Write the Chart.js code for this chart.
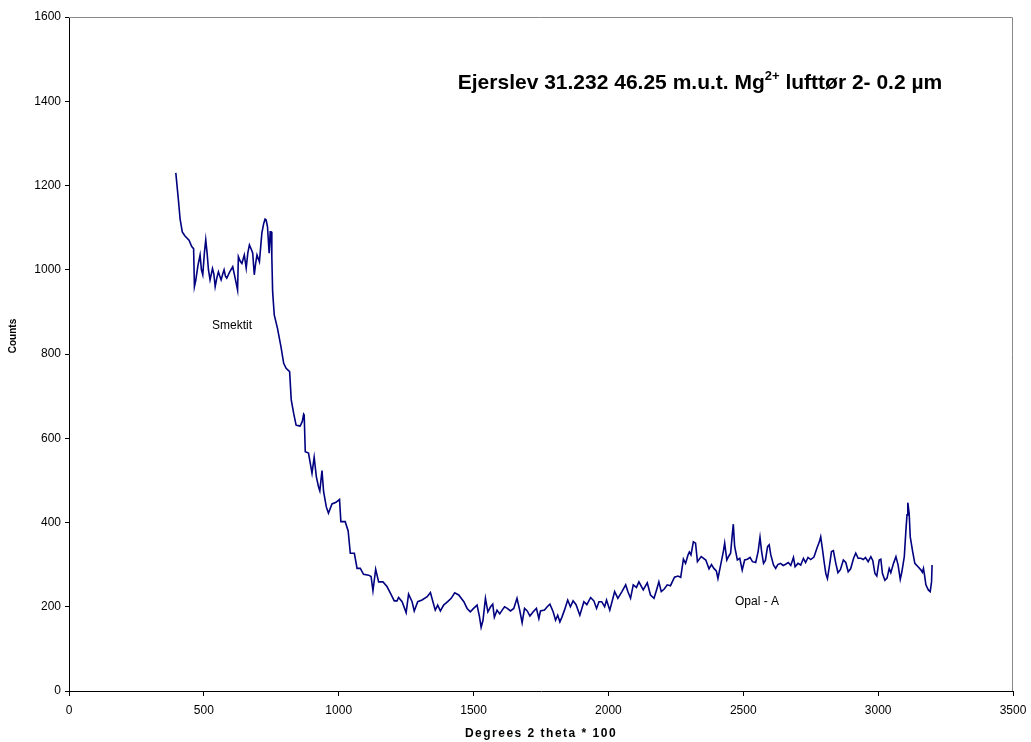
<!DOCTYPE html>
<html>
<head>
<meta charset="utf-8">
<script src="https://cdn.jsdelivr.net/npm/chart.js@4.4.1/dist/chart.umd.min.js"></script>
<style>
  html, body { margin: 0; padding: 0; background: #fff; }
  #wrap { width: 1031px; height: 742px; }
</style>
</head>
<body>
<div id="wrap"><canvas id="xrd" width="1031" height="742"></canvas></div>
<script>
// diffractogram: 2 theta * 100 vs counts
const twoTheta = [
  396, 405, 412, 420, 430, 445, 455, 462, 465, 470, 478, 486, 491, 496, 502, 507, 512, 517, 523, 532,
  537, 542, 548, 554, 559, 564, 570, 575, 580, 585, 596, 607, 616, 625, 628, 635, 641, 650, 657, 663,
  669, 675, 681, 687, 692, 697, 706, 715, 722, 727, 731, 736, 742, 746, 749, 752, 755, 761, 773, 786,
  796, 805, 818, 824, 833, 842, 850, 857, 865, 870, 872, 876, 888, 901, 909, 917, 925, 930, 938, 944,
  954, 962, 975, 990, 1003, 1008, 1024, 1035, 1043, 1058, 1068, 1080, 1092, 1111, 1120, 1127, 1137, 1148, 1164, 1179,
  1192, 1206, 1216, 1222, 1235, 1250, 1259, 1272, 1280, 1293, 1309, 1328, 1340, 1350, 1358, 1367, 1377, 1389, 1404, 1417,
  1430, 1445, 1464, 1476, 1488, 1500, 1513, 1522, 1528, 1535, 1544, 1553, 1563, 1571, 1577, 1587, 1597, 1606, 1615, 1625,
  1637, 1649, 1661, 1671, 1680, 1689, 1699, 1709, 1721, 1733, 1742, 1748, 1763, 1773, 1783, 1795, 1804, 1812, 1820, 1828,
  1837, 1849, 1859, 1869, 1880, 1894, 1909, 1920, 1934, 1946, 1956, 1965, 1975, 1986, 1993, 2005, 2015, 2023, 2035, 2050,
  2064, 2072, 2082, 2092, 2104, 2113, 2129, 2144, 2156, 2169, 2179, 2187, 2196, 2207, 2218, 2230, 2245, 2258, 2268, 2278,
  2286, 2295, 2300, 2306, 2315, 2323, 2330, 2344, 2361, 2373, 2382, 2391, 2400, 2406, 2416, 2426, 2431, 2439, 2446, 2453,
  2459, 2463, 2468, 2478, 2487, 2496, 2505, 2515, 2525, 2534, 2546, 2555, 2562, 2568, 2575, 2582, 2590, 2596, 2602, 2612,
  2620, 2628, 2638, 2648, 2657, 2667, 2676, 2686, 2692, 2703, 2713, 2723, 2731, 2740, 2750, 2762, 2773, 2782, 2787, 2793,
  2800, 2806, 2812, 2819, 2827, 2834, 2843, 2851, 2860, 2871, 2880, 2889, 2898, 2909, 2917, 2926, 2936, 2945, 2953, 2963,
  2973, 2980, 2988, 2995, 3004, 3010, 3016, 3025, 3033, 3041, 3047, 3057, 3066, 3074, 3082, 3088, 3097, 3103, 3107, 3110,
  3115, 3119, 3128, 3136, 3148, 3159, 3164, 3168, 3173, 3177, 3186, 3193, 3198, 3200
];
const counts = [
  1230, 1170, 1120, 1090, 1080, 1070, 1055, 1050, 960, 975, 1010, 1035, 1000, 988, 1040, 1071, 1040, 1000, 976, 1003,
  990, 960, 980, 995, 985, 976, 990, 1000, 985, 980, 995, 1007, 980, 952, 1031, 1020, 1015, 1035, 1004, 1040,
  1059, 1050, 1040, 988, 1015, 1035, 1019, 1087, 1110, 1120, 1118, 1102, 1039, 1090, 1090, 1031, 948, 893, 861, 817,
  778, 766, 758, 691, 659, 631, 630, 629, 640, 657, 655, 568, 565, 517, 555, 509, 485, 475, 523, 473,
  437, 422, 444, 448, 455, 402, 402, 380, 327, 327, 291, 291, 277, 275, 272, 238, 289, 259, 259, 248,
  232, 214, 214, 222, 212, 186, 230, 212, 190, 212, 216, 224, 234, 210, 192, 204, 190, 204, 212, 220,
  233, 228, 212, 196, 188, 196, 204, 176, 151, 168, 220, 188, 200, 206, 175, 192, 183, 192, 200, 196,
  190, 196, 220, 192, 162, 196, 190, 178, 188, 196, 172, 190, 192, 200, 206, 188, 168, 180, 164, 176,
  192, 216, 200, 214, 205, 180, 212, 205, 222, 214, 196, 212, 212, 200, 216, 192, 216, 236, 220, 236,
  252, 236, 220, 252, 246, 259, 240, 257, 228, 220, 241, 259, 236, 242, 252, 250, 270, 273, 270, 313,
  303, 323, 330, 323, 354, 351, 307, 319, 311, 290, 300, 291, 285, 267, 299, 331, 351, 311, 320, 327,
  370, 396, 343, 311, 315, 287, 311, 313, 317, 307, 305, 331, 365, 331, 303, 310, 343, 347, 323, 299,
  291, 300, 303, 298, 301, 305, 298, 317, 295, 303, 299, 315, 305, 317, 312, 318, 339, 354, 366, 339,
  305, 279, 267, 295, 331, 333, 303, 281, 288, 311, 305, 283, 290, 315, 327, 315, 315, 312, 317, 307,
  319, 310, 279, 273, 311, 313, 279, 263, 268, 291, 281, 303, 319, 299, 265, 283, 319, 382, 418, 447,
  422, 366, 331, 303, 295, 287, 282, 291, 271, 252, 240, 236, 259, 299
];

const FONT = "'Liberation Sans', Arial, sans-serif";

// frame, title with superscript, peak labels and axis titles
const labelsPlugin = {
  id: "xrdLabels",
  afterDraw(chart) {
    const ctx = chart.ctx;
    const area = chart.chartArea;
    ctx.save();

    // gray frame on top and right
    ctx.strokeStyle = "#888";
    ctx.lineWidth = 1;
    ctx.beginPath();
    ctx.moveTo(area.left, area.top + 0.5);
    ctx.lineTo(area.right - 0.5, area.top + 0.5);
    ctx.lineTo(area.right - 0.5, area.bottom);
    ctx.stroke();

    ctx.fillStyle = "#000";
    ctx.textBaseline = "alphabetic";
    ctx.textAlign = "left";
    const big = "bold 21px " + FONT;
    const sup = "bold 13px " + FONT;
    const parts = [
      ["Ejerslev 31.232 46.25 m.u.t. Mg", big, 0],
      ["2+", sup, -9],
      [" lufttør 2- 0.2 µm", big, 0]
    ];
    let w = 0;
    parts.forEach(p => { ctx.font = p[1]; w += ctx.measureText(p[0]).width; });
    let x = 700 - w / 2;
    parts.forEach(p => {
      ctx.font = p[1];
      ctx.fillText(p[0], x, 89 + p[2]);
      x += ctx.measureText(p[0]).width;
    });

    ctx.font = "12px " + FONT;
    ctx.textAlign = "center";
    ctx.fillText("Smektit", 232, 329);
    ctx.fillText("Opal - A", 757, 605);

    // x axis title, spaced out like the original
    ctx.font = "bold 12px " + FONT;
    ctx.letterSpacing = "1.5px";
    ctx.fillText("Degrees 2 theta * 100", 541, 737);
    ctx.letterSpacing = "0px";

    // y axis title
    ctx.font = "bold 10px " + FONT;
    ctx.translate(16, 336);
    ctx.rotate(-Math.PI / 2);
    ctx.fillText("Counts", 0, 0);
    ctx.restore();
  }
};

new Chart(document.getElementById("xrd"), {
  type: "line",
  data: {
    datasets: [{
      data: twoTheta.map((t, i) => ({ x: t, y: counts[i] })),
      borderColor: "#000080",
      borderWidth: 1.6,
      pointRadius: 0,
      tension: 0,
      fill: false
    }]
  },
  options: {
    responsive: false,
    animation: false,
    layout: { padding: { top: 17, right: 18, left: 0, bottom: 0 } },
    plugins: {
      legend: { display: false },
      tooltip: { enabled: false }
    },
    scales: {
      x: {
        type: "linear",
        min: 0,
        max: 3500,
        afterFit: s => { s.height = 51; s.paddingLeft = 0; s.paddingRight = 0; },
        ticks: {
          stepSize: 500, color: "#000", font: { family: FONT, size: 12 }, padding: 7, maxRotation: 0,
          callback: v => String(v)
        },
        grid: { drawOnChartArea: false, drawTicks: true, tickLength: 5, color: "#000" },
        border: { color: "#000", width: 1 }
      },
      y: {
        min: 0,
        max: 1600,
        afterFit: s => { s.width = 69; s.paddingTop = 0; s.paddingBottom = 0; },
        ticks: {
          stepSize: 200, color: "#000", font: { family: FONT, size: 12 }, padding: 4,
          callback: v => String(v)
        },
        grid: { drawOnChartArea: false, drawTicks: true, tickLength: 4, color: "#000" },
        border: { color: "#000", width: 1 }
      }
    }
  },
  plugins: [labelsPlugin]
});
</script>
</body>
</html>
